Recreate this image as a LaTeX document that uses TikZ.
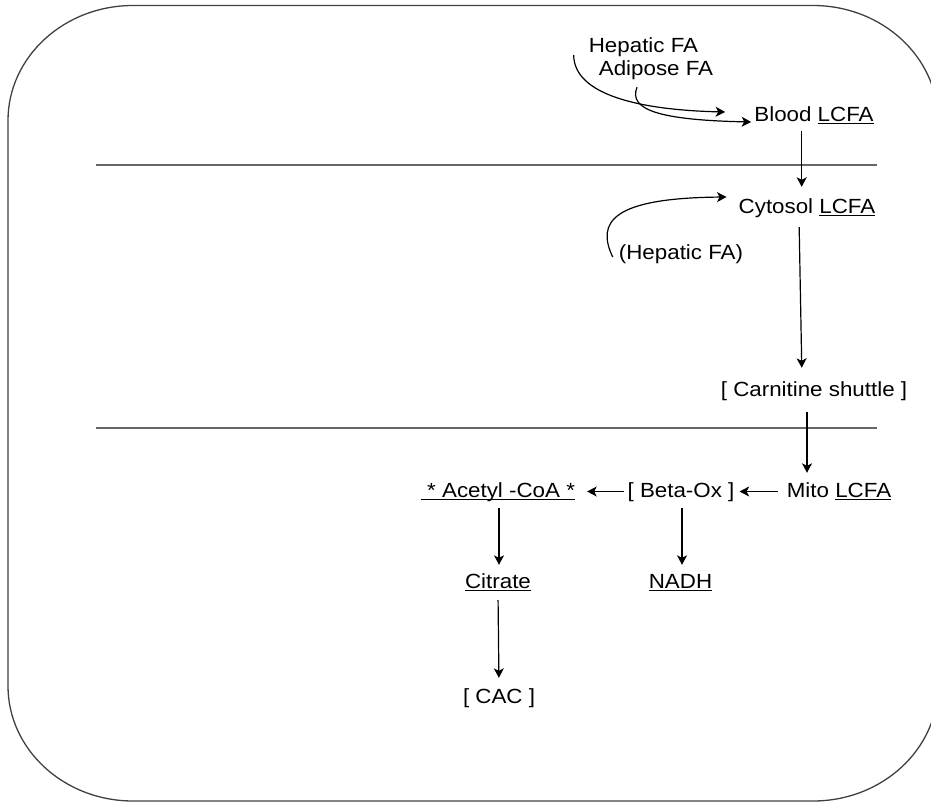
\documentclass[tikz,border=0pt]{standalone}
\usepackage{fontspec}
\setmainfont{Liberation Sans}[FakeStretch=1.09]
\usetikzlibrary{arrows.meta}
\newcommand{\myul}[1]{\setbox0\hbox{#1}\rlap{\rule[-2.8pt]{\wd0}{1pt}}\box0}
\begin{document}
\begin{tikzpicture}[x=1pt,y=-1pt,
  lbl/.style={inner sep=0pt,anchor=base,text height=16pt,text depth=5pt,
    font=\fontsize{20.5}{24}\selectfont},
  arr/.style={line width=1.2pt,-{Stealth[length=9.5pt,width=10pt,inset=2.5pt]}},
  sep/.style={line width=1.5pt,draw=black!60},
  frame/.style={line width=1.3pt,draw=black!75}]
\useasboundingbox (0,0) rectangle (931,803);
% frame
\draw[frame] (8,120.5) .. controls (8,57) and (64,5.5) .. (133,5.5) -- (813,5.5)
  .. controls (882,5.5) and (938,57) .. (938,120.5) -- (938,686)
  .. controls (938,749.5) and (882,801) .. (813,801) -- (133,801)
  .. controls (64,801) and (8,749.5) .. (8,686) -- cycle;
% separators
\draw[sep] (96,165) -- (877,165);
\draw[sep] (96,428) -- (877,428);
% nodes
\node[lbl] (hep)   at (643.5,52) {Hepatic FA};
\node[lbl] (adip)  at (656,75)   {Adipose FA};
\node[lbl] (blood) at (814,121)  {Blood \myul{LCFA}};
\node[lbl] (cyto)  at (807,213)  {Cytosol \myul{LCFA}};
\node[lbl] (hepc)  at (681,259)  {(Hepatic FA)};
\node[lbl] (carn)  at (814,396)  {[ Carnitine shuttle ]};
\node[lbl] (mito)  at (839,497)  {Mito \myul{LCFA}};
\node[lbl] (beta)  at (681,497)  {[ Beta-Ox ]};
\node[lbl] (acet)  at (498,497)  {\myul{\ * Acetyl -CoA *}};
\node[lbl] (cit)   at (498,588)  {\myul{Citrate}};
\node[lbl] (nadh)  at (680.5,588) {\myul{NADH}};
\node[lbl] (cac)   at (499,703)  {[ CAC ]};
% curved arrows
\draw[arr] ([xshift=-15pt,yshift=-8.5pt]hep.west) .. controls (574,95) and (640,110) .. ([xshift=-29pt,yshift=3.5pt]blood.west);
\draw[arr] ([xshift=-19pt,yshift=-7pt]adip.south) .. controls (628,110) and (660,120) .. ([xshift=-3pt,yshift=-6.5pt]blood.west);
\draw[arr] ([xshift=-6pt,yshift=-3.5pt]hepc.west) .. controls (596,222) and (612,198) .. ([xshift=-12pt,yshift=10.5pt]cyto.west);
% straight arrows
\draw[arr,shorten <=5pt,shorten >=10pt] ([xshift=-12.3pt]blood.south) -- ([xshift=-5.3pt]cyto.north);
\draw[arr,shorten <=9pt,shorten >=12pt] ([xshift=-8pt]cyto.south) -- ([xshift=-12pt]carn.north);
\draw[arr,shorten <=11pt,shorten >=8pt] ([xshift=-7pt]carn.south) -- ([xshift=-32pt]mito.north);
\draw[arr,shorten <=9pt,shorten >=5pt] (mito.west) -- (beta.east);
\draw[arr,shorten <=3pt,shorten >=12pt] (beta.west) -- (acet.east);
\draw[arr,shorten <=6pt,shorten >=7pt] ([xshift=1pt]acet.south) -- ([xshift=1pt]cit.north);
\draw[arr,shorten <=6pt,shorten >=7pt] ([xshift=1pt]beta.south) -- ([xshift=1.5pt]nadh.north);
\draw[arr,shorten <=7pt,shorten >=9pt] (cit.south) -- (cac.north);
\end{tikzpicture}
\end{document}
